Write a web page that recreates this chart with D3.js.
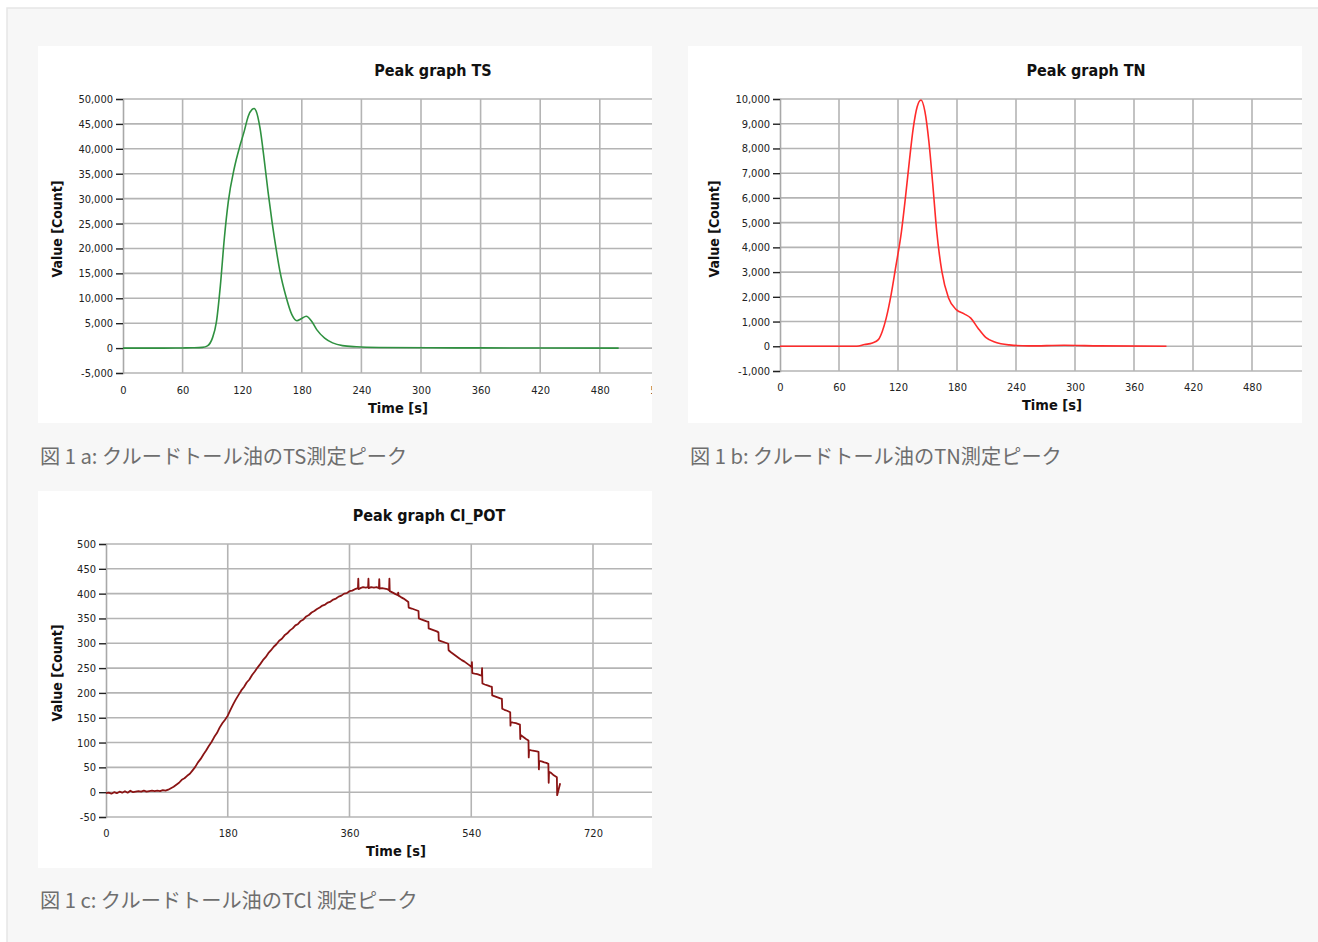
<!DOCTYPE html>
<html><head><meta charset="utf-8">
<script src="https://cdn.jsdelivr.net/npm/d3@7"></script>
<style>
html,body{margin:0;padding:0;background:#fff;}
svg{display:block;}
</style></head>
<body>
<svg id="c" width="1318" height="942"></svg>
<script>
// ---------- DATA ----------
const tsTime  = [0,20,40,60,70,80,85,90,94,98,102,106,112,118,122,126,130,132,134,138,142,146,150,154,158,164,170,175,179.5,184.5,189.5,195,203,211,221,235,258,310,360,420,499];
const tsValue = [0,0,0,30,60,150,450,2000,5200,12500,22000,29400,36100,40800,43500,46500,47900,48100,47600,44100,38100,31400,25400,20100,15400,10400,6700,5500,5900,6400,5500,3700,2000,1050,500,270,130,70,40,10,0];

const tnTime  = [0,40,78,86,94,100,104,108,113,117.5,123.5,127.5,131.5,135.5,139.5,143.4,147.4,151.4,155.4,159.4,164.6,171.4,179.3,187.3,194,201.2,209.2,219,233,253,289,325,393];
const tnValue = [0,0,0,70,135,270,600,1140,2090,3160,4640,5990,7470,8820,9690,9960,9490,8280,6530,4640,3030,1950,1480,1310,1140,740,360,160,55,15,40,15,0];

const clTime = [0,4,8,12,16,20,24,28,32,36,40,44,48,52,56,60,64,68,72,76,80,84,88,92,96,100,104,108,112,116,120,124,128,132,136,140,144,148,152,156,160,164,168,172,176,180,184,188,192,196,200,204,208,212,216,220,224,228,232,236,240,244,248,252,256,260,264,268,272,276,280,284,288,292,296,300,304,308,312,316,320,324,328,332,336,340,344,348,352,356,360,364,368,
  372.5,373,373.5,376,380,384,387.5,388,388.5,392,396,400,403.5,404,404.5,408,412,416,418.5,419,419.5,424,428,431.5,432,432.5,436,440,444,447,447.5,452,456,460,462,462.5,466,470,474,476.7,477,481,485,489,491.5,492,496,500,504,506,506.5,510,514,518,522,526,530,534,538,540.5,541,541.5,545,549,553,555.5,556,556.5,560,564,568,570.5,571,575,579,583,585.3,585.8,589,593,597.6,598,598.5,602,606,610,612,612.5,613,617,621,624.6,625,625.5,629,633,637,639.5,640,640.5,644,648,651,654,654.5,655,658,662,666.6,667,671.5];
const clValue = [-2,-1,-3,0,-2,1,-1,2,-1,3,0,1,2,1,3,1,2,3,2,3,2,4,3,5,8,11,15,19,25,28,33,37,44,51,60,67,76,84,93,101,111,119,130,139,146,154,166,177,187,196,205,212,221,227,236,243,251,258,266,272,280,286,293,298,305,309,316,320,326,330,336,339,345,348,354,357,362,365,369,372,376,378,382,384,388,390,394,396,400,401,405,406,409,
  411,430,409,411,413,412,413,430,411,413,412,413,411,429,410,411,410,409,407,430,405,402,399,397,402,396,393,390,386,383,372,370,368,366,365,350,348,346,344,343,330,328,326,324,322,306,304,302,300,299,286,282,278,274,270,266,263,259,255,252,262,240,239,238,236,235,250,219,217,215,213,212,195,193,191,189,188,168,166,164,161,134,141,140,139,137,136,107,115,111,107,104,70,85,84,83,82,81,46,63,62,60,59,57,19,41,39,34,30,-6,18];

const timeTicksTS = [0,60,120,180,240,300,360,420,480,540];
const timeTicksTN = [0,60,120,180,240,300,360,420,480];
const timeTicksCl = [0,180,360,540,720];
const tsTicks = [-5000,0,5000,10000,15000,20000,25000,30000,35000,40000,45000,50000];
const tnTicks = [-1000,0,1000,2000,3000,4000,5000,6000,7000,8000,9000,10000];
const clTicks = [-50,0,50,100,150,200,250,300,350,400,450,500];

const titles   = ["Peak graph TS","Peak graph TN","Peak graph Cl_POT"];
const captions = ["図 1 a: クルードトール油のTS測定ピーク","図 1 b: クルードトール油のTN測定ピーク","図 1 c: クルードトール油のTCl 測定ピーク"];
const xLabel = "Time [s]", yLabel = "Value [Count]";

// ---------- DRAW ----------
const svg = d3.select("#c");
svg.append("rect").attr("x",7).attr("y",8).attr("width",1320).attr("height",940)
   .attr("fill","#f7f7f7").attr("stroke","#e6e6e6").attr("stroke-width",1.5);

const fmt = d => d3.format(",")(d).replace("−","-");
const tickFont = "'DejaVu Sans Condensed','DejaVu Sans',sans-serif";

function panel(o){
  const g = svg.append("g");
  const cid = "clip"+o.id;
  svg.append("clipPath").attr("id",cid).append("rect")
     .attr("x",o.px).attr("y",o.py).attr("width",o.pw).attr("height",o.ph);
  g.attr("clip-path",`url(#${cid})`);
  g.append("rect").attr("x",o.px).attr("y",o.py).attr("width",o.pw).attr("height",o.ph).attr("fill","#fff");

  const x = d3.scaleLinear().domain(o.xd).range(o.xr);
  const y = d3.scaleLinear().domain(o.yd).range(o.yr);
  const right = o.px+o.pw;

  // horizontal grid
  g.append("g").selectAll("line").data(o.yTicks).join("line")
    .attr("x1",x(0)).attr("x2",right).attr("y1",d=>y(d)).attr("y2",d=>y(d))
    .attr("stroke","#b4b4b4").attr("stroke-width",1.6);
  // vertical grid
  g.append("g").selectAll("line").data(o.xTicks.filter(d=>d>0)).join("line")
    .attr("x1",d=>x(d)).attr("x2",d=>x(d)).attr("y1",y(o.yd[1])).attr("y2",y(o.yd[0]))
    .attr("stroke","#b4b4b4").attr("stroke-width",1.6);

  // y axis
  const ya = d3.axisLeft(y).tickValues(o.yTicks).tickFormat(fmt).tickSize(7).tickPadding(3);
  const yg = g.append("g").attr("transform",`translate(${x(0)},0)`).call(ya);
  yg.select(".domain").attr("stroke","#a8a8a8").attr("stroke-width",1.6);
  yg.selectAll(".tick line").attr("stroke","#222").attr("stroke-width",1.4);
  yg.selectAll("text").attr("font-family",tickFont).attr("font-size",11).attr("fill","#222");

  // x axis labels
  const xa = d3.axisBottom(x).tickValues(o.xTicks).tickFormat(d3.format("d")).tickSize(0).tickPadding(o.xpad);
  const xg = g.append("g").attr("transform",`translate(0,${y(o.yd[0])})`).call(xa);
  xg.select(".domain").remove();
  xg.selectAll("text").attr("font-family",tickFont).attr("font-size",11).attr("fill","#222");

  // line
  const line = d3.line().x((d,i)=>x(o.t[i])).y(d=>y(d)).curve(o.curve);
  g.append("path").datum(o.v).attr("d",line).attr("fill","none")
   .attr("stroke",o.color).attr("stroke-width",o.sw).attr("stroke-linejoin","round");

  // titles
  g.append("text").attr("x",o.titleX).attr("y",o.py+30).attr("text-anchor","middle")
    .attr("font-family","'DejaVu Sans Condensed','DejaVu Sans',sans-serif").attr("font-weight","bold")
    .attr("font-size",16).attr("fill","#111").text(o.title);
  g.append("text").attr("x",o.xlX).attr("y",o.xlY).attr("text-anchor","middle")
    .attr("font-family","'DejaVu Sans Condensed','DejaVu Sans',sans-serif").attr("font-weight","bold")
    .attr("font-size",14.5).attr("fill","#111").text(xLabel);
  g.append("text").attr("transform",`translate(${o.ylX},${o.ylY}) rotate(-90)`).attr("text-anchor","middle")
    .attr("font-family","'DejaVu Sans Condensed','DejaVu Sans',sans-serif").attr("font-weight","bold")
    .attr("font-size",14).attr("fill","#111").text(yLabel);

  svg.append("text").attr("x",o.px+2).attr("y",o.capY)
    .attr("font-family","'Noto Sans CJK JP','Noto Sans',sans-serif").attr("font-size",20.2)
    .attr("fill","#6e6e6e").text(o.caption);
}

panel({id:"a",px:38,py:46,pw:614,ph:377,
  xd:[0,540],xr:[123,123+540*59.6/60],yd:[-5000,50000],yr:[373,99],xpad:13,
  xTicks:timeTicksTS,yTicks:tsTicks,t:tsTime,v:tsValue,color:"#2f9140",sw:1.6,curve:d3.curveMonotoneX,
  title:titles[0],titleX:433,xlX:398,xlY:413,ylX:62,ylY:229,caption:captions[0],capY:464});

panel({id:"b",px:688,py:46,pw:614,ph:377,
  xd:[0,540],xr:[780,780+540*59/60],yd:[-1000,10000],yr:[371,99],xpad:12,
  xTicks:timeTicksTN,yTicks:tnTicks,t:tnTime,v:tnValue,color:"#ff2b2b",sw:1.6,curve:d3.curveMonotoneX,
  title:titles[1],titleX:1086,xlX:1052,xlY:410,ylX:719,ylY:229,caption:captions[1],capY:464});

panel({id:"c",px:38,py:491,pw:614,ph:377,
  xd:[0,900],xr:[106,106+900*487/720],yd:[-50,500],yr:[817,544],xpad:12,
  xTicks:timeTicksCl,yTicks:clTicks,t:clTime,v:clValue,color:"#8a1414",sw:1.8,curve:d3.curveLinear,
  title:titles[2],titleX:429,xlX:396,xlY:856,ylX:62,ylY:673,caption:captions[2],capY:908});
</script>
</body></html>
